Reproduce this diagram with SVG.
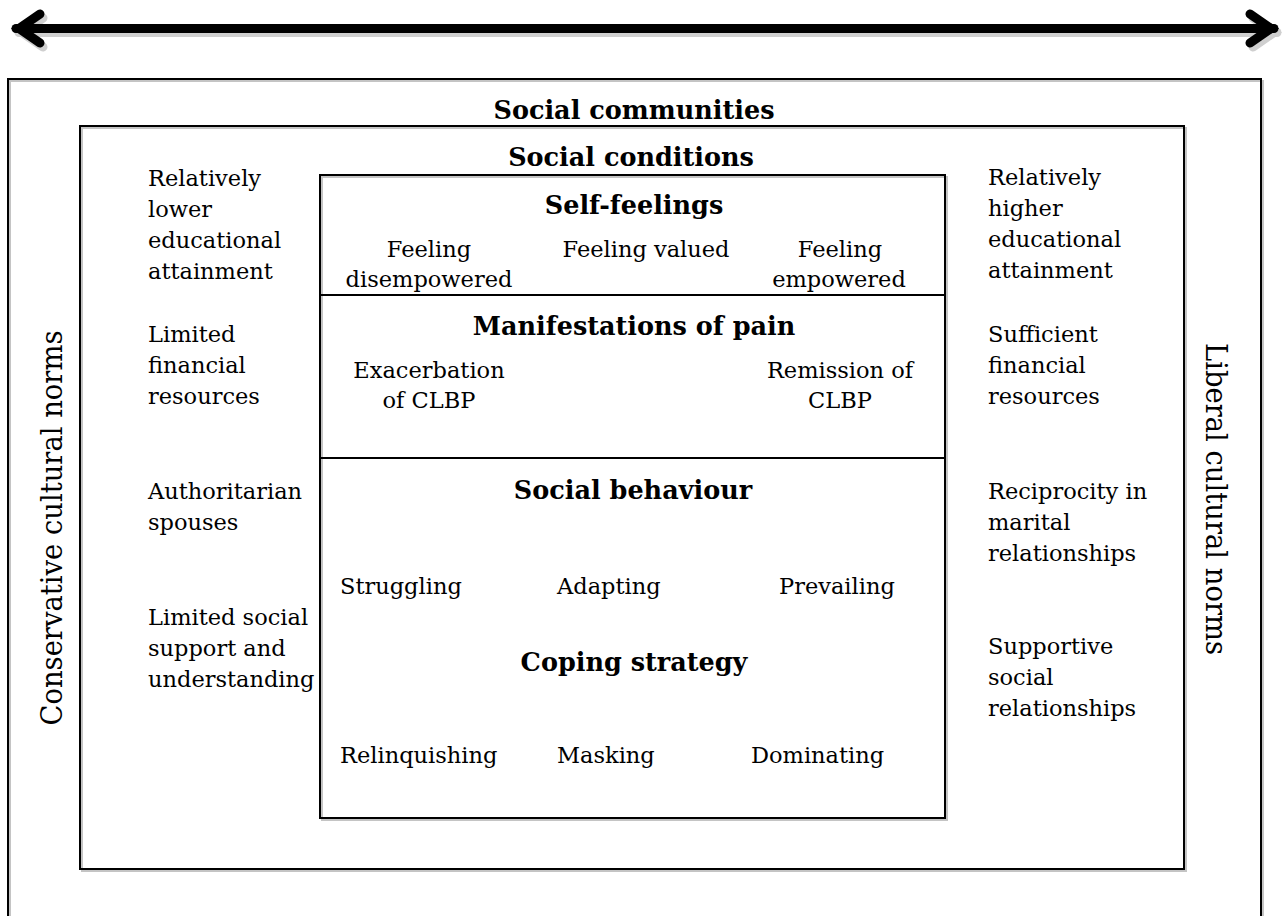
<svg xmlns="http://www.w3.org/2000/svg" width="1288" height="916" viewBox="0 0 1288 916">
  <style>
    .frame { fill: none; stroke: #000; stroke-width: 2; }
    .shade { fill: none; stroke: #c4c4c4; stroke-width: 2; }
    .t { font-family: "DejaVu Serif", "Liberation Serif", serif; font-size: 22.5px; fill: #000; }
    .h { font-family: "DejaVu Serif", "Liberation Serif", serif; font-size: 25.5px; font-weight: bold; fill: #000; text-anchor: middle; }
    .c { text-anchor: middle; }
    .v { font-family: "DejaVu Serif", "Liberation Serif", serif; font-size: 29px; fill: #000; text-anchor: middle; }
    .arrow { fill: none; stroke: #000; stroke-width: 9; stroke-linecap: round; stroke-linejoin: miter; }
    .arrow-shade { fill: none; stroke: #cfcfcf; stroke-width: 9; stroke-linecap: round; stroke-linejoin: miter; }
  </style>

  <rect width="1288" height="916" fill="#fff"/>

  <!-- double-headed arrow across the top -->
  <g id="connectors">
    <g transform="translate(3,4)">
      <line class="arrow-shade" x1="16" y1="28.5" x2="1274" y2="28.5"/>
      <polyline class="arrow-shade" points="40,14 19,28.5 40,43"/>
      <polyline class="arrow-shade" points="1250,14 1271,28.5 1250,43"/>
    </g>
    <line class="arrow" x1="16" y1="28.5" x2="1274" y2="28.5"/>
    <polyline class="arrow" points="40,14 19,28.5 40,43"/>
    <polyline class="arrow" points="1250,14 1271,28.5 1250,43"/>
  </g>

  <!-- outermost frame: social communities (open at the bottom edge) -->
  <g id="social-communities">
    <path class="shade" d="M10,920 V81 H1263 V920"/>
    <path class="frame" d="M8,920 V79 H1261 V920"/>
    <text class="h" x="634" y="119">Social communities</text>
    <text class="v" transform="translate(62,528) rotate(-90)" textLength="395" lengthAdjust="spacingAndGlyphs">Conservative cultural norms</text>
    <text class="v" transform="translate(1206,499) rotate(90)" textLength="312" lengthAdjust="spacingAndGlyphs">Liberal cultural norms</text>
  </g>

  <!-- middle frame: social conditions -->
  <g id="social-conditions">
    <rect class="shade" x="82" y="128" width="1104" height="743"/>
    <rect class="frame" x="80" y="126" width="1104" height="743" fill="#fff"/>
    <text class="h" x="631" y="166">Social conditions</text>
    <text class="t" x="148" y="186">Relatively</text>
    <text class="t" x="148" y="217">lower</text>
    <text class="t" x="148" y="248">educational</text>
    <text class="t" x="148" y="279">attainment</text>
    <text class="t" x="148" y="342">Limited</text>
    <text class="t" x="148" y="373">financial</text>
    <text class="t" x="148" y="404">resources</text>
    <text class="t" x="148" y="499">Authoritarian</text>
    <text class="t" x="148" y="530">spouses</text>
    <text class="t" x="148" y="625">Limited social</text>
    <text class="t" x="148" y="656">support and</text>
    <text class="t" x="148" y="687">understanding</text>
    <text class="t" x="988" y="185">Relatively</text>
    <text class="t" x="988" y="216">higher</text>
    <text class="t" x="988" y="247">educational</text>
    <text class="t" x="988" y="278">attainment</text>
    <text class="t" x="988" y="342">Sufficient</text>
    <text class="t" x="988" y="373">financial</text>
    <text class="t" x="988" y="404">resources</text>
    <text class="t" x="988" y="499">Reciprocity in</text>
    <text class="t" x="988" y="530">marital</text>
    <text class="t" x="988" y="561">relationships</text>
    <text class="t" x="988" y="654">Supportive</text>
    <text class="t" x="988" y="685">social</text>
    <text class="t" x="988" y="716">relationships</text>
  </g>

  <!-- inner stack -->
  <g id="inner-shade">
    <rect class="shade" x="322" y="177" width="625" height="643"/>
  </g>

  <g id="self-feelings">
    <rect class="frame" x="320" y="175" width="625" height="120" fill="#fff"/>
    <text class="h" x="634" y="214">Self-feelings</text>
    <text class="t c" x="429" y="257">Feeling</text>
    <text class="t c" x="429" y="287">disempowered</text>
    <text class="t c" x="646" y="257">Feeling valued</text>
    <text class="t c" x="840" y="257">Feeling</text>
    <text class="t c" x="839" y="287">empowered</text>
  </g>

  <g id="manifestations-of-pain">
    <rect class="frame" x="320" y="295" width="625" height="163" fill="#fff"/>
    <text class="h" x="634" y="335">Manifestations of pain</text>
    <text class="t c" x="429" y="378">Exacerbation</text>
    <text class="t c" x="429" y="408">of CLBP</text>
    <text class="t c" x="840" y="378">Remission of</text>
    <text class="t c" x="840" y="408">CLBP</text>
  </g>

  <g id="social-behaviour">
    <rect class="frame" x="320" y="458" width="625" height="360" fill="#fff"/>
    <text class="h" x="633" y="499">Social behaviour</text>
    <text class="t" x="340" y="594">Struggling</text>
    <text class="t" x="557" y="594">Adapting</text>
    <text class="t" x="779" y="594">Prevailing</text>
    <text class="h" x="634" y="671">Coping strategy</text>
    <text class="t" x="340" y="763">Relinquishing</text>
    <text class="t" x="557" y="763">Masking</text>
    <text class="t" x="751" y="763">Dominating</text>
  </g>
</svg>
